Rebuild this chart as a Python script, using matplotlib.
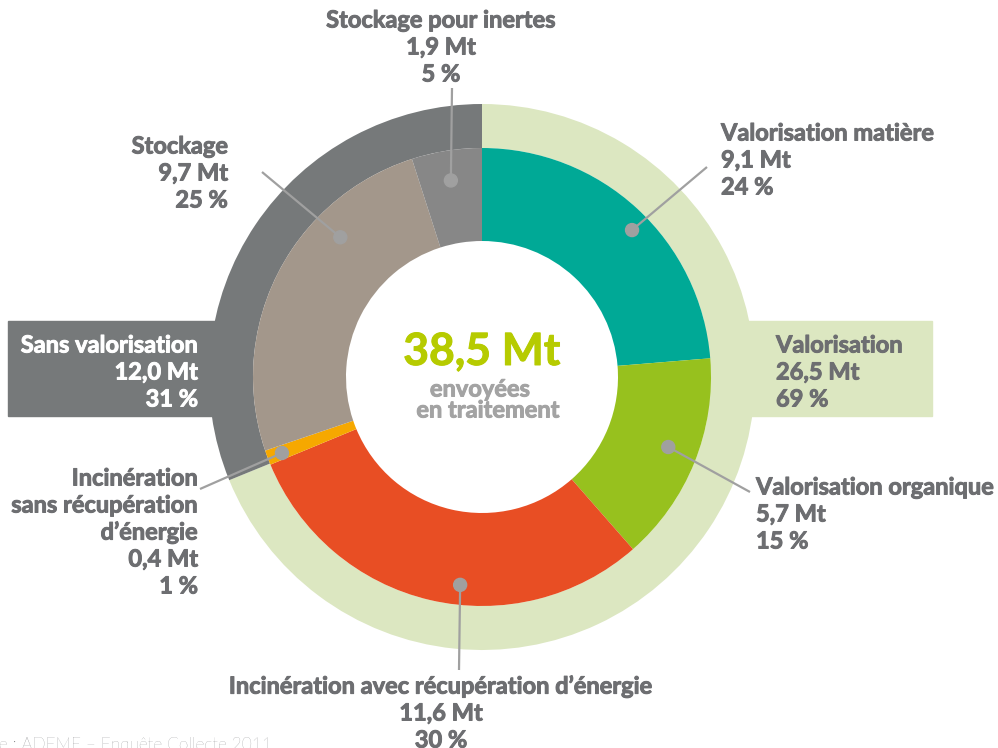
import numpy as np
import matplotlib.pyplot as plt
import matplotlib.patheffects as pe
from matplotlib.patches import Rectangle, Circle

# inner ring: treatment modes (Mt, %)
inner_names = ["Valorisation matière", "Valorisation organique",
               "Incinération avec récupération d’énergie",
               "Incinération sans récupération d’énergie",
               "Stockage", "Stockage pour inertes"]
inner_mt = [9.1, 5.7, 11.6, 0.4, 9.7, 1.9]
inner_pct = [24, 15, 30, 1, 25, 5]
inner_colors = ['#00A996', '#97C11E', '#E84E24', '#F6A800', '#A3978B', '#878787']

# outer ring: with / without valorisation
outer_names = ["Valorisation", "Sans valorisation"]
outer_mt = [26.5, 12.0]
outer_pct = [69, 31]
outer_colors = ['#DCE7C1', '#76797A']

total_mt = 38.5

W, H = 998, 748
cx, cy = 482, H - 377
R_out, R_mid, R_in = 273, 229, 136

FONT = ['Lato', 'DejaVu Sans']
GREY = '#6D6E71'
LINE = '#A0A0A0'


def fmt(v):
    return '{:.1f}'.format(v).replace('.', ',')


def Y(y):
    return H - y


def btext(x, y, s, color, size, ha='center'):
    ax.text(x, Y(y), s, ha=ha, va='center', fontsize=size, fontweight='bold',
            color=color, family=FONT, zorder=5,
            path_effects=[pe.withStroke(linewidth=0.7, foreground=color)])


def label(x, y0, lines, ha='left', color=GREY, step=27, size=17):
    for i, s in enumerate(lines):
        btext(x, y0 + i * step, s, color, size, ha)


def leader(ang, r, x2, y2):
    a = np.deg2rad(ang)
    x1, y1 = cx + r * np.cos(a), cy + r * np.sin(a)
    ax.plot([x1, x2], [y1, Y(y2)], color=LINE, lw=1.6, zorder=4,
            solid_capstyle='butt')
    ax.add_patch(Circle((x1, y1), 6.5, color=LINE, zorder=4))


fig = plt.figure(figsize=(9.98, 7.48), dpi=100)
ax = fig.add_axes([0, 0, 1, 1])

# side boxes behind the ring
ax.add_patch(Rectangle((8, Y(416)), 240, 95, color=outer_colors[1], zorder=1))
ax.add_patch(Rectangle((700, Y(416)), 232, 95, color=outer_colors[0], zorder=1))

ax.pie(outer_mt, colors=outer_colors, startangle=90, counterclock=False,
       center=(cx, cy), radius=R_out,
       wedgeprops=dict(width=R_out - R_mid, linewidth=0, zorder=2))
ax.pie(inner_mt, colors=inner_colors, startangle=90, counterclock=False,
       center=(cx, cy), radius=R_mid,
       wedgeprops=dict(width=R_mid - R_in, linewidth=0, zorder=3))

ax.set_xlim(0, W)
ax.set_ylim(0, H)
ax.set_aspect('equal')
ax.axis('off')

# centre text
btext(cx, 352, fmt(total_mt) + ' Mt', '#B6CB00', 32)
btext(480, 389, 'envoyées', '#A3A3A3', 17)
btext(488, 410, 'en traitement', '#A3A3A3', 17)

# labels
def lines_for(i, name_lines=None):
    nl = name_lines if name_lines else [inner_names[i]]
    return nl + [fmt(inner_mt[i]) + ' Mt', '{} %'.format(inner_pct[i])]


label(441, 20, lines_for(5), ha='center')
leader(99, 199, 452, 88)

label(721, 133, lines_for(0))
leader(44.4, 210, 707, 167)

label(756, 487, lines_for(1))
leader(-20.6, 199, 750, 492)

label(441, 686, lines_for(2), ha='center')
leader(-96, 209, 459, 670)

label(228, 146, lines_for(4), ha='right')
leader(135.4, 199, 262, 172)

label(198, 478, lines_for(3, ["Incinération", "sans récupération", "d’énergie"]),
      ha='right')
leader(200.8, 214, 200, 489)

label(776, 345, [outer_names[0], fmt(outer_mt[0]) + ' Mt', '{} %'.format(outer_pct[0])])
label(198, 345, [outer_names[1], fmt(outer_mt[1]) + ' Mt', '{} %'.format(outer_pct[1])],
      ha='right', color='white')

ax.text(272, Y(737), 'Source : ADEME – Enquête Collecte 2011', ha='right', va='top',
        fontsize=12.4, fontweight='light', color=GREY, family=FONT)

fig.savefig('out.png', dpi=100)
